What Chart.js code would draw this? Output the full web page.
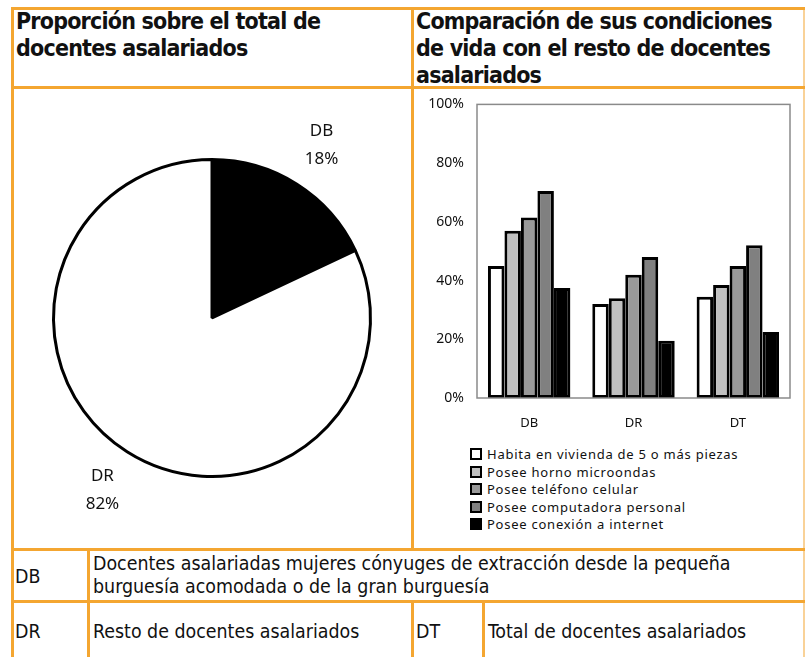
<!DOCTYPE html>
<html>
<head>
<meta charset="utf-8">
<script src="https://cdn.jsdelivr.net/npm/chart.js@4.4.1/dist/chart.umd.min.js"></script>
<style>
  html, body { margin: 0; padding: 0; background: #fff; }
  body { width: 805px; height: 657px; position: relative; overflow: hidden; }
  .ln { position: absolute; background: #f4a631; }
  .h { height: 3px; }
  .v { width: 3px; }
  .txt { position: absolute; color: #111; font-family: "DejaVu Sans Condensed", sans-serif; white-space: nowrap; }
  .head { font-weight: bold; font-size: 23px; line-height: 27px; letter-spacing: -0.8px; }
  .cell { font-size: 19.4px; line-height: 23px; }
  canvas { position: absolute; }
  #legend { position: absolute; left: 470px; top: 446px; font-family: "Noto Sans", sans-serif; font-size: 13px; color: #111; }
  #legend div { height: 17.6px; line-height: 17.6px; white-space: nowrap; letter-spacing: 0.75px; }
  #legend span.box { display: inline-block; width: 8px; height: 8px; border: 2px solid #000; margin-right: 5px; vertical-align: -1px; }
</style>
</head>
<body>
<!-- table lines -->
<div class="ln h" style="left:11px; top:7px; width:794px;"></div>
<div class="ln h" style="left:11px; top:86px; width:794px;"></div>
<div class="ln h" style="left:11px; top:548px; width:794px;"></div>
<div class="ln h" style="left:11px; top:600px; width:794px;"></div>
<div class="ln v" style="left:11px; top:7px; height:650px;"></div>
<div class="ln v" style="left:411px; top:7px; height:543px;"></div>
<div class="ln v" style="left:87px; top:548px; height:109px;"></div>
<div class="ln v" style="left:411px; top:600px; height:57px;"></div>
<div class="ln v" style="left:482px; top:600px; height:57px;"></div>
<div class="ln v" style="left:803px; top:7px; height:650px; opacity:0.5;"></div>

<div class="txt head" style="left:16px; top:8px;">Proporción sobre el total de<br>docentes asalariados</div>
<div class="txt head" style="left:416px; top:8px;">Comparación de sus condiciones<br>de vida con el resto de docentes<br>asalariados</div>

<div class="txt cell" style="left:15px; top:565px;">DB</div>
<div class="txt cell" style="left:93px; top:552px;">Docentes asalariadas mujeres cónyuges de extracción desde la pequeña<br>burguesía acomodada o de la gran burguesía</div>
<div class="txt cell" style="left:15px; top:620px;">DR</div>
<div class="txt cell" style="left:93px; top:620px;">Resto de docentes asalariados</div>
<div class="txt cell" style="left:416px; top:620px;">DT</div>
<div class="txt cell" style="left:488px; top:620px;">Total de docentes asalariados</div>

<canvas id="pie" width="400" height="460" style="left:12px; top:88px;"></canvas>
<canvas id="bars" width="390" height="350" style="left:413px; top:83px;"></canvas>
<div id="legend"></div>

<script>
// Pie data
const pieLabels = ['DB', 'DR'];
const pieValues = [18, 82];

// Bar data (percent)
const categories = ['DB', 'DR', 'DT'];
const seriesLabels = [
  'Habita en vivienda de 5 o más piezas',
  'Posee horno microondas',
  'Posee teléfono celular',
  'Posee computadora personal',
  'Posee conexión a internet'
];
const habita = [45, 32, 34.5];
const microondas = [57, 34, 38.5];
const celular = [61.5, 42, 45];
const computadora = [70.5, 48, 52];
const internet = [37.5, 19.5, 22.5];
const yTicks = [0, 20, 40, 60, 80, 100];

const seriesColors = ['#ffffff', '#c0c0c0', '#999999', '#808080', '#000000'];

// Labels outside the pie, along each slice's middle angle
const outsideLabels = {
  id: 'outsideLabels',
  afterDraw(chart) {
    const ctx = chart.ctx;
    const meta = chart.getDatasetMeta(0);
    ctx.save();
    ctx.font = '17px "Noto Sans", sans-serif';
    ctx.fillStyle = '#111';
    ctx.textAlign = 'center';
    ctx.textBaseline = 'middle';
    meta.data.forEach((arc, i) => {
      const p = arc.getProps(['x', 'y', 'startAngle', 'endAngle', 'outerRadius'], true);
      const mid = (p.startAngle + p.endAngle) / 2;
      const r = p.outerRadius * 1.29;
      const x = p.x + Math.cos(mid) * r;
      const y = p.y + Math.sin(mid) * r;
      ctx.fillText(pieLabels[i], x, y - 14);
      ctx.fillText(pieValues[i] + '%', x, y + 14);
    });
    ctx.restore();
  }
};

new Chart(document.getElementById('pie'), {
  type: 'pie',
  data: {
    labels: pieLabels,
    datasets: [{
      data: pieValues,
      backgroundColor: ['#000000', '#ffffff'],
      borderColor: '#000',
      borderWidth: 3
    }]
  },
  options: {
    responsive: false,
    animation: false,
    layout: { padding: 40 },
    plugins: { legend: { display: false }, tooltip: { enabled: false } }
  },
  plugins: [outsideLabels]
});

// grey frame round the plot area
const plotFrame = {
  id: 'plotFrame',
  afterDraw(chart) {
    const a = chart.chartArea;
    const ctx = chart.ctx;
    ctx.save();
    ctx.strokeStyle = '#8a8a8a';
    ctx.lineWidth = 1.5;
    ctx.strokeRect(a.left, a.top, a.right - a.left, a.bottom - a.top);
    ctx.restore();
  }
};

const seriesData = [habita, microondas, celular, computadora, internet];
const barChart = new Chart(document.getElementById('bars'), {
  type: 'bar',
  data: {
    labels: categories,
    datasets: seriesData.map((d, i) => ({
      label: seriesLabels[i],
      data: d,
      backgroundColor: seriesColors[i],
      borderColor: '#000',
      borderWidth: 3,
      borderSkipped: false,
      barPercentage: 1,
      categoryPercentage: 0.79
    }))
  },
  options: {
    responsive: false,
    animation: false,
    layout: { padding: { top: 10, right: 13, left: 0, bottom: 0 } },
    plugins: { legend: { display: false }, tooltip: { enabled: false } },
    scales: {
      x: {
        grid: { display: false, drawTicks: false },
        border: { display: false },
        ticks: { padding: 17, color: '#111', font: { family: 'Noto Sans', size: 13 } },
        afterFit(s) { s.height = 35; }
      },
      y: {
        min: 0,
        max: 100,
        grid: { display: false, drawTicks: false },
        border: { display: false },
        afterBuildTicks(s) { s.ticks = yTicks.map(v => ({ value: v })); },
        ticks: {
          padding: 13,
          color: '#111',
          font: { family: 'Noto Sans', size: 14 },
          callback: v => v + '%'
        },
        afterFit(s) { s.width = 64; }
      }
    }
  },
  plugins: [plotFrame]
});

// HTML legend, one item per line, built from the chart datasets
const legendEl = document.getElementById('legend');
barChart.data.datasets.forEach(ds => {
  const row = document.createElement('div');
  row.innerHTML = `<span class="box" style="background:${ds.backgroundColor}"></span>${ds.label}`;
  legendEl.appendChild(row);
});
</script>
</body>
</html>
